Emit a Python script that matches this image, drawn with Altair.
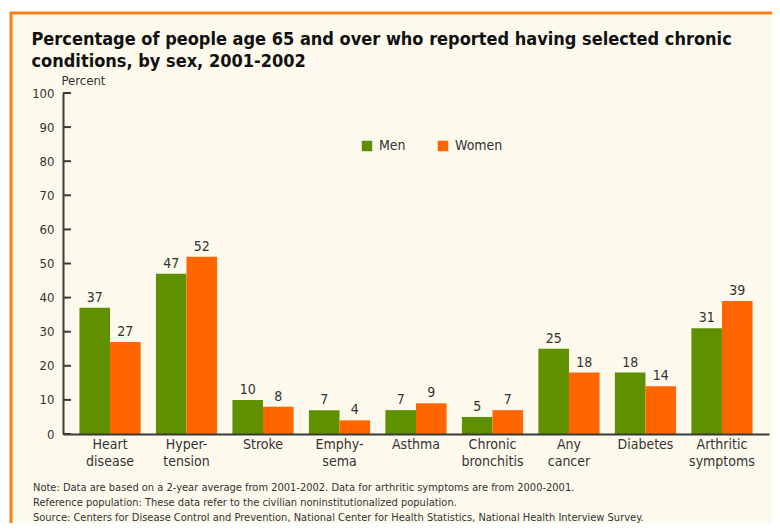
import altair as alt
import pandas as pd

CATEGORIES = ["Heart\ndisease", "Hyper-\ntension", "Stroke", "Emphy-\nsema", "Asthma",
              "Chronic\nbronchitis", "Any\ncancer", "Diabetes", "Arthritic\nsymptoms"]
MEN = [37, 47, 10, 7, 7, 5, 25, 18, 31]
WOMEN = [27, 52, 8, 4, 9, 7, 18, 14, 39]
SERIES = ["Men", "Women"]
COLORS = ["#5e9000", "#ff6600"]
Y_TICKS = [0, 10, 20, 30, 40, 50, 60, 70, 80, 90, 100]
TITLE_LINES = ["Percentage of people age 65 and over who reported having selected chronic",
               "conditions, by sex, 2001-2002"]
NOTES = ["Note:  Data are based on a 2-year average from 2001-2002. Data for arthritic symptoms are from 2000-2001.",
         "Reference population:  These data refer to the civilian noninstitutionalized population.",
         "Source:  Centers for Disease Control and Prevention, National Center for Health Statistics, National Health Interview Survey."]

rows = []
for c, m, w in zip(CATEGORIES, MEN, WOMEN):
    rows.append({"condition": c, "sex": "Men", "value": m})
    rows.append({"condition": c, "sex": "Women", "value": w})
df = pd.DataFrame(rows)
ticks_df = pd.DataFrame({"value": Y_TICKS})

FONT = "Liberation Sans Narrow, DejaVu Sans Condensed, Arial Narrow, sans-serif"
TEXT = "#333333"
AXIS = "#3a3a3a"
CREAM = "#fdf9ec"
ORANGE = "#f7801f"

x_enc = alt.X("condition:N", sort=CATEGORIES,
              scale=alt.Scale(paddingInner=0.2, paddingOuter=0.215),
              axis=alt.Axis(title=None, labelAngle=0, labelExpr="split(datum.label, '\\n')",
                            ticks=False, domainColor=AXIS, domainWidth=2, labelFont=FONT,
                            labelFontSize=14, labelColor=TEXT, labelPadding=3,
                            labelLineHeight=17, labelBaseline="top", zindex=1))
xo_enc = alt.XOffset("sex:N", sort=SERIES, scale=alt.Scale(paddingInner=0, paddingOuter=0))
y_enc = alt.Y("value:Q", scale=alt.Scale(domain=[0, 100], nice=False),
              axis=alt.Axis(values=Y_TICKS, ticks=False, grid=False, domainColor=AXIS,
                            domainWidth=2, labelFont=FONT, labelFontSize=13, labelColor=TEXT,
                            labelPadding=9, title="Percent", titleAngle=0, titleAlign="left",
                            titleBaseline="bottom", titleX=-2, titleY=-6, titleFont=FONT,
                            titleFontSize=13, titleFontWeight="normal", titleColor=TEXT,
                            zindex=1))

background = alt.Chart(alt.Data(values=[{}])).mark_rect(
    fill=CREAM, stroke=ORANGE, strokeWidth=3
).encode(x=alt.value(-52), x2=alt.value(760), y=alt.value(-80), y2=alt.value(480))

bars = alt.Chart(df).mark_bar().encode(
    x=x_enc, xOffset=xo_enc, y=y_enc,
    color=alt.Color("sex:N", scale=alt.Scale(domain=SERIES, range=COLORS),
                    legend=alt.Legend(title=None, orient="none", legendX=297, legendY=46,
                                      direction="horizontal", symbolType="square",
                                      symbolSize=110, symbolStrokeWidth=0, labelFont=FONT,
                                      labelFontSize=14, labelColor=TEXT, columnPadding=30,
                                      labelOffset=5, padding=0))
)

labels = alt.Chart(df).mark_text(baseline="bottom", dy=-3, fontSize=14, font=FONT,
                                 color=TEXT).encode(
    x=x_enc, xOffset=xo_enc, y=y_enc, text="value:Q"
)

tick_marks = alt.Chart(ticks_df).mark_rule(color=AXIS, strokeWidth=2).encode(
    y=y_enc, x=alt.value(0), x2=alt.value(8)
)

note_layers = []
for i, line in enumerate(NOTES):
    note_layers.append(
        alt.Chart(alt.Data(values=[{}])).mark_text(
            text=line, align="left", baseline="middle", font=FONT, fontSize=11, color=TEXT
        ).encode(x=alt.value(-30), y=alt.value(395 + 15 * i))
    )

chart = alt.layer(background, bars, labels, tick_marks, *note_layers).properties(
    width=706, height=341,
    padding={"left": 55, "top": 85, "right": 3, "bottom": 89},
    autosize=alt.AutoSizeParams(type="none"),
    background="white",
    title=alt.Title(TITLE_LINES, anchor="start", font=FONT, fontSize=18, fontWeight="bold",
                    color="#111111", lineHeight=22, dx=22, dy=89, offset=30),
).configure_view(stroke=None)

chart.save("out.html", embed_options={"renderer": "svg", "actions": False})
